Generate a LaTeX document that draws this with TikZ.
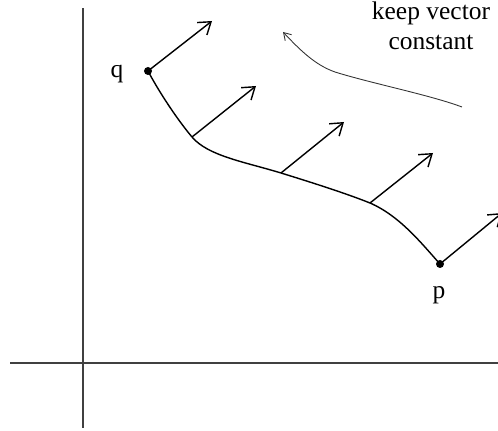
\documentclass[tikz,border=0pt]{standalone}
\usepackage{fontspec}
\setmainfont{Liberation Serif}
\usepackage{tikz}
\usetikzlibrary{arrows.meta}

\tikzset{
  axis/.style={line width=0.9pt, black!75},
  vec/.style={line width=0.8pt, -{Straight Barb[length=6.5pt, width=9pt, line width=0.8pt]}},
  transport/.style={line width=0.5pt, black!80, -{Straight Barb[length=4pt, width=5pt]}},
  lbl/.style={font=\fontsize{14.5}{17}\selectfont, inner sep=0pt}
}

\begin{document}
\begin{tikzpicture}[x=0.02cm, y=-0.02cm]
  \useasboundingbox (0,0) rectangle (498,431);

  % Axes
  \coordinate (yt) at (83, 8);
  \coordinate (yb) at (83, 428);
  \coordinate (xl) at (10, 363);
  \coordinate (xr) at (498, 363);
  \draw[axis] (yb) -- (yt);
  \draw[axis] (xl) -- (xr);

  % End points of the path
  \coordinate (q) at (148, 71);
  \coordinate (p) at (440, 264);

  % Points on the path where the vector is drawn
  \coordinate (b1) at (192, 137);
  \coordinate (b2) at (281, 173);
  \coordinate (b3) at (370, 203);

  % Path from q to p
  \draw[line width=0.8pt] (q) .. controls (158, 90) and (176, 118) .. (b1)
    .. controls (208, 156) and (245, 162) .. (b2)
    .. controls (310, 182) and (345, 193) .. (b3)
    .. controls (400, 216) and (422, 244) .. (p);

  % Vectors along the path
  \coordinate (t0) at (212, 21);
  \coordinate (t1) at (256, 86);
  \coordinate (t2) at (344, 122);
  \coordinate (t3) at (433, 153);
  \coordinate (t4) at (502, 213);
  \draw[vec] (q) -- (t0);
  \draw[vec] (b1) -- (t1);
  \draw[vec] (b2) -- (t2);
  \draw[vec] (b3) -- (t3);
  \begin{scope}
    \clip (0,0) rectangle (498,431);
    \draw[vec] (p) -- (t4);
  \end{scope}

  % Dots and labels
  \fill (q) circle (4);
  \fill (p) circle (4);
  \node[lbl] (qlabel) at (117, 74) {q};
  \node[lbl] (plabel) at (439, 295) {p};

  % Transport hint
  \coordinate (h0) at (462, 107);
  \coordinate (hm) at (335, 72);
  \coordinate (h1) at (283, 32);
  \draw[transport] (h0) .. controls (430, 95) and (370, 83) .. (hm)
    .. controls (315, 65) and (300, 50) .. (h1);
  \node[lbl, align=center] (hint) at (431, 26) {keep vector\\constant};
\end{tikzpicture}
\end{document}
